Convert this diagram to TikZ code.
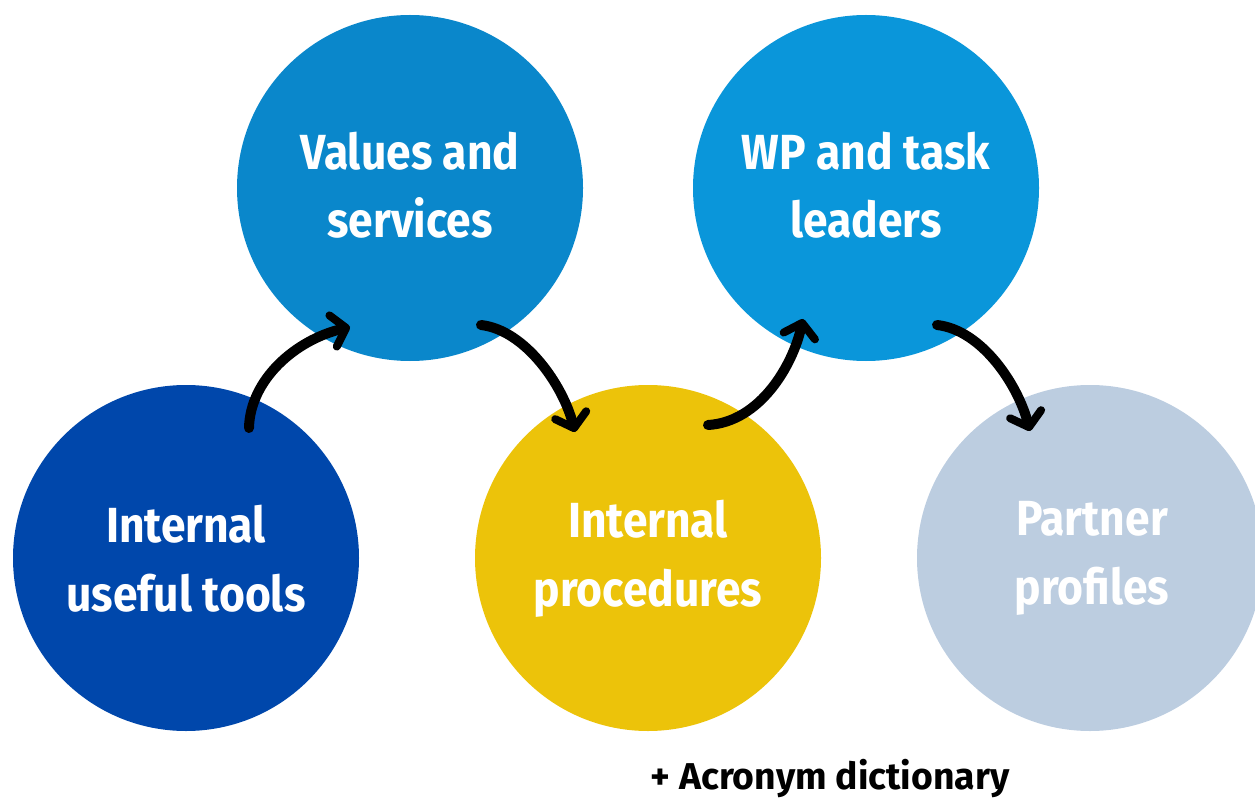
\documentclass[tikz,border=0pt]{standalone}
\usepackage{fontspec}
\usetikzlibrary{arrows.meta}
\newfontfamily\condfont[FakeStretch=0.90]{Fira Sans}
\newfontfamily\plainfont{Fira Sans}
\definecolor{cdark}{HTML}{0047AB}
\definecolor{cmid}{HTML}{0A87CB}
\definecolor{clight}{HTML}{0A96DA}
\definecolor{cyell}{HTML}{ECC30A}
\definecolor{cgrey}{HTML}{BCCDE0}
\begin{document}
\begin{tikzpicture}[x=0.75pt,y=-0.75pt,
  bubble/.style={circle,minimum size=259.5pt,inner sep=0pt},
  btext/.style={text=white,align=center,inner sep=0pt,yshift=2pt,
    font=\condfont\bfseries\fontsize{37}{51.5}\selectfont},
  lowtext/.style={btext,yshift=-2.5pt},
  flow/.style={line width=7.5pt,line cap=round,
    -{Straight Barb[length=10pt,width=24pt,round,line width=6pt]}}]
\useasboundingbox (0,0) rectangle (1255,798);
\node[bubble,fill=cdark] (tools) at (186,558) {};
\node[bubble,fill=cmid] (values) at (410,188) {};
\node[bubble,fill=cyell] (proc) at (648,558) {};
\node[bubble,fill=clight] (wp) at (866,188) {};
\node[bubble,fill=cgrey] (partner) at (1090,558) {};
\node[lowtext] (toolsT) at (tools.center) {Internal\\useful tools};
\node[btext] (valuesT) at (values.center) {Values and\\services};
\node[lowtext] (procT) at (proc.center) {Internal\\procedures};
\node[btext] (wpT) at (wp.center) {WP and task\\leaders};
\node[lowtext,xshift=1.5pt] (partnerT) at (partner.center) {Partner\\profiles};
\node[font=\plainfont\bfseries\fontsize{28}{32}\selectfont] (acr) at (830,778) {+ Acronym dictionary};
\coordinate (a1s) at (249,428);
\coordinate (a1e) at (350,327);
\coordinate (a2s) at (481,325);
\coordinate (a2e) at (575,432);
\coordinate (a3s) at (708,425);
\coordinate (a3e) at (803,319);
\coordinate (a4s) at (937,325);
\coordinate (a4e) at (1030,431);
\draw[flow] (a1s) .. controls (250,380) and (295,340) .. (a1e);
\draw[flow] (a2s) .. controls (525,330) and (563,385) .. (a2e);
\draw[flow] (a3s) .. controls (760,422) and (793,365) .. (a3e);
\draw[flow] (a4s) .. controls (982,330) and (1018,385) .. (a4e);
\end{tikzpicture}
\end{document}
